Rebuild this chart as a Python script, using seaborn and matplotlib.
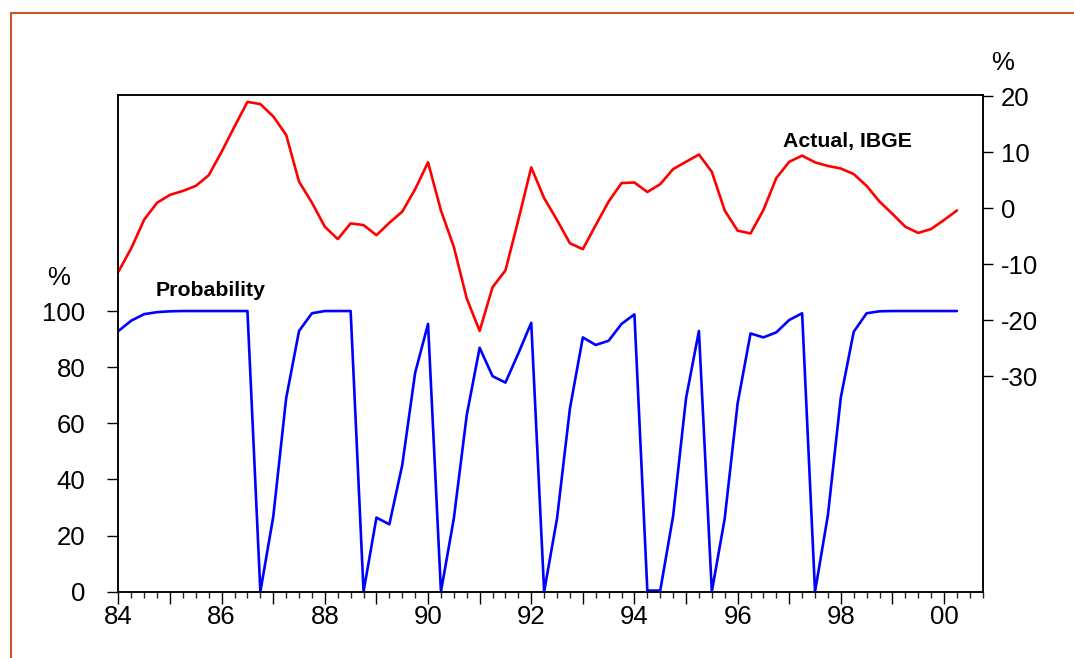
import numpy as np
import pandas as pd
import matplotlib
matplotlib.use("Agg")
import matplotlib.pyplot as plt
from matplotlib.lines import Line2D
from matplotlib.ticker import FixedLocator, MultipleLocator
import seaborn as sns

# ---- data (quarterly, 1984Q1 .. 2000Q2) ----
start_year = 1984
n_quarters = 66
actual_ibge = [-11.3, -7.1, -2.0, 1.0, 2.4, 3.1, 4.0, 5.9, 10.1, 14.6, 19.0, 18.6,
               16.4, 13.1, 4.75, 1.0, -3.3, -5.5, -2.7, -3.0, -4.8, -2.6, -0.6, 3.4,
               8.2, -0.4, -6.9, -16.1, -21.9, -14.1, -11.1, -2.1, 7.3, 1.8, -2.1, -6.25,
               -7.3, -3.0, 1.2, 4.5, 4.6, 2.9, 4.3, 7.0, 8.3, 9.6, 6.5, -0.4,
               -4.0, -4.5, -0.3, 5.4, 8.3, 9.4, 8.2, 7.55, 7.1, 6.1, 4.0, 1.2,
               -1.0, -3.3, -4.4, -3.7, -2.1, -0.4]
probability = [92.9, 96.6, 98.9, 99.6, 99.9, 100, 100, 100, 100, 100, 100, 0,
               26.7, 68.9, 92.9, 99.2, 100, 100, 100, 0, 26.4, 24.0, 45.1, 78.0,
               95.4, 0, 26.1, 62.9, 86.9, 76.8, 74.5, 84.9, 95.8, 0, 26.1, 65.3,
               90.6, 87.9, 89.4, 95.4, 98.8, 0.4, 0.4, 27.0, 68.9, 92.9, 0, 26.1,
               67.1, 92.0, 90.6, 92.4, 96.8, 99.2, 0, 27.3, 69.2, 92.6, 99.2, 99.9,
               100, 100, 100, 100, 100, 100]
year_ticks = list(range(1984, 2001))
year_labels = [str(y)[2:] if y % 2 == 0 else "" for y in year_ticks]
left_ticks = [0, 20, 40, 60, 80, 100]
right_ticks = [-30, -20, -10, 0, 10, 20]

t = start_year + np.arange(n_quarters) * 0.25
df = pd.DataFrame({"t": t, "actual": actual_ibge, "prob": probability})

sns.set_style("ticks")
plt.rcParams["font.family"] = ["Liberation Sans", "DejaVu Sans"]
plt.rcParams["axes.unicode_minus"] = False
plt.rcParams["text.color"] = "black"

fig = plt.figure(figsize=(10.74, 6.58), dpi=100)
ax = fig.add_axes([0.1103, 0.1008, 0.915 - 0.1103, 0.8549 - 0.1008])
ax2 = ax.twinx()

sns.lineplot(data=df, x="t", y="prob", ax=ax, color="#0000FF", lw=1.9)
sns.lineplot(data=df, x="t", y="actual", ax=ax2, color="#FF0000", lw=1.9)

ax.set_xlim(1984.0, 2000.75)
ax.set_ylim(0, 176.8)
ax2.set_ylim(-68.46, 20.14)

ax.set_xlabel("")
ax.set_ylabel("")
ax2.set_ylabel("")

ax.xaxis.set_major_locator(FixedLocator(year_ticks))
ax.set_xticklabels(year_labels)
ax.xaxis.set_minor_locator(MultipleLocator(0.25))
ax.set_yticks(left_ticks)
ax2.set_yticks(right_ticks)

for a in (ax, ax2):
    for s in a.spines.values():
        s.set_visible(True)
        s.set_linewidth(1.1)
        s.set_color("black")

ax.tick_params(axis="x", which="major", direction="out", length=8.5, width=1.0,
               labelsize=18.5, pad=1, colors="black")
ax.tick_params(axis="x", which="minor", direction="out", length=4.3, width=1.0)
ax.tick_params(axis="y", which="major", direction="out", length=8, width=1.0,
               labelsize=18.5, pad=16, colors="black", left=True, right=False)
ax2.tick_params(axis="y", which="major", direction="out", length=7.2, width=1.0,
                labelsize=18.5, pad=6, colors="black", right=True, left=False)

fig.text(59 / 1074, 1 - 278 / 658, "%", fontsize=18.5, ha="center", va="center")
fig.text(1003 / 1074, 1 - 63 / 658, "%", fontsize=18.5, ha="center", va="center")
fig.text(156 / 1074, 1 - 291 / 658, "Probability", fontsize=15.3, fontweight="bold",
         ha="left", va="center")
fig.text(783 / 1074, 1 - 141 / 658, "Actual, IBGE", fontsize=15.3, fontweight="bold",
         ha="left", va="center")

# outer frame (top and left edges visible)
bc = "#BF5B2C"
fig.add_artist(Line2D([11 / 1074, 11 / 1074], [1 - 13 / 658, 0], transform=fig.transFigure,
                      color=bc, lw=1.5))
fig.add_artist(Line2D([11 / 1074, 1.0], [1 - 13 / 658, 1 - 13 / 658], transform=fig.transFigure,
                      color=bc, lw=1.5))

fig.savefig("out.png", dpi=100)
